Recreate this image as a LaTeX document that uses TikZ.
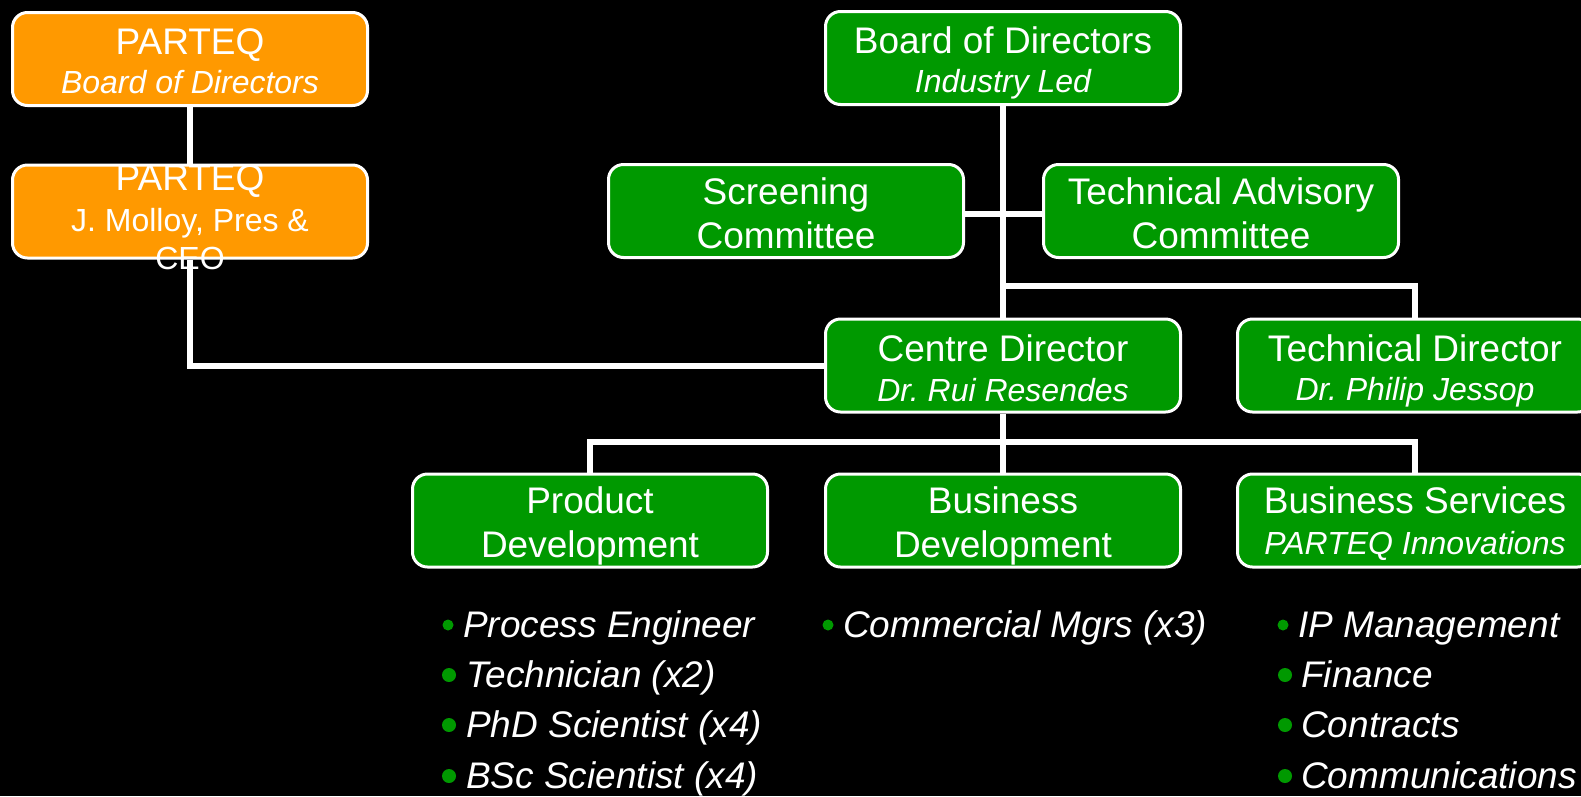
\documentclass[tikz,border=0pt]{standalone}
\usepackage{fontspec}
\setmainfont{Liberation Sans}
\definecolor{boxgreen}{HTML}{009900}
\definecolor{boxorange}{HTML}{FF9900}
\newcommand\ttlfont{\fontsize{37}{44}\selectfont}
\newcommand\subfont{\fontsize{32}{38}\selectfont\itshape}
\newcommand\subupfont{\fontsize{32}{38}\selectfont}
\newcommand\itemfont{\fontsize{37}{44}\selectfont\itshape}
\tikzset{
  orgbox/.style={rectangle, rounded corners=15pt, draw=white, line width=3pt,
    minimum width=355pt, minimum height=93pt, inner sep=0pt, fill=boxgreen},
  orangebox/.style={orgbox, fill=boxorange},
  conn/.style={draw=white, line width=6pt},
  ttl/.style={text=white, inner sep=0pt, anchor=base, font=\ttlfont},
  sub/.style={text=white, inner sep=0pt, anchor=base, font=\subfont},
  subup/.style={text=white, inner sep=0pt, anchor=base, font=\subupfont},
  itemtxt/.style={text=white, inner sep=0pt, anchor=base west, font=\itemfont},
  dot/.style={fill=boxgreen}
}
\begin{document}
\begin{tikzpicture}[x=1pt,y=-1pt]
\useasboundingbox (0,0) rectangle (1581,796);
\fill[black] (0,0) rectangle (1581,796);
\clip (0,0) rectangle (1581,796);

% boxes
\path
  (190,59)     node[orangebox] (pbod) {}
  (190,211.5)  node[orangebox] (pceo) {}
  (1003,58)    node[orgbox] (bod) {}
  (786,211)    node[orgbox] (sc) {}
  (1221,211)   node[orgbox] (tac) {}
  (1003,365.5) node[orgbox] (cd) {}
  (1415,365.5) node[orgbox] (td) {}
  (590,520.5)  node[orgbox] (pd) {}
  (1003,520.5) node[orgbox] (bd) {}
  (1415,520.5) node[orgbox] (bs) {};

\coordinate (j1) at (1003,286);
\coordinate (j2) at (1003,442);

% connectors
\draw[conn] (pbod.south) -- (pceo.north);
\draw[conn] (pceo.south) |- (cd.west);
\draw[conn] (bod.south) -- (cd.north);
\draw[conn] ([yshift=-3pt]sc.east) -- ([yshift=-3pt]tac.west);
\draw[conn] (j1) -| (td.north);
\draw[conn] (cd.south) -- (bd.north);
\draw[conn] (pd.north) |- (j2) -| (bs.north);

% box texts
\node[ttl] (pbodA) at ([yshift=5pt]pbod.center) {PARTEQ};
\node[sub] (pbodB) at ([yshift=-34pt]pbod.center) {Board of Directors};

\node[ttl] (pceoA) at ([yshift=21.5pt]pceo.center) {PARTEQ};
\node[subup] (pceoB) at ([yshift=-19.5pt]pceo.center) {J. Molloy, Pres \&};
\node[subup] (pceoC) at ([yshift=-58pt]pceo.center) {CEO};

\node[ttl] (bodA) at ([yshift=5pt]bod.center) {Board of Directors};
\node[sub] (bodB) at ([yshift=-34pt]bod.center) {Industry Led};

\node[ttl] (scA) at ([yshift=7pt]sc.center) {Screening};
\node[ttl] (scB) at ([yshift=-37pt]sc.center) {Committee};

\node[ttl] (tacA) at ([yshift=7pt]tac.center) {Technical Advisory};
\node[ttl] (tacB) at ([yshift=-37pt]tac.center) {Committee};

\node[ttl] (cdA) at ([yshift=4pt]cd.center) {Centre Director};
\node[sub] (cdB) at ([yshift=-36pt]cd.center) {Dr.\ Rui Resendes};

\node[ttl] (tdA) at ([yshift=4pt]td.center) {Technical Director};
\node[sub] (tdB) at ([yshift=-35pt]td.center) {Dr.\ Philip Jessop};

\node[ttl] (pdA) at ([yshift=7pt]pd.center) {Product};
\node[ttl] (pdB) at ([yshift=-37pt]pd.center) {Development};

\node[ttl] (bdA) at ([yshift=7pt]bd.center) {Business};
\node[ttl] (bdB) at ([yshift=-37pt]bd.center) {Development};

\node[ttl] (bsA) at ([yshift=7pt]bs.center) {Business Services};
\node[sub] (bsB) at ([yshift=-34pt]bs.center) {PARTEQ Innovations};

% bullet lists
\fill[dot] (448,625) circle (5.5pt);
\fill[dot] (449,675) circle (7pt);
\fill[dot] (449,725) circle (7pt);
\fill[dot] (449,776) circle (7pt);
\node[itemtxt] (p1) at (463,637) {Process Engineer};
\node[itemtxt] (p2) at (466,687) {Technician (x2)};
\node[itemtxt] (p3) at (466,737) {PhD Scientist (x4)};
\node[itemtxt] (p4) at (466,788) {BSc Scientist (x4)};

\fill[dot] (828,625) circle (5.5pt);
\node[itemtxt] (c1) at (843,637) {Commercial Mgrs (x3)};

\fill[dot] (1283,625) circle (5.5pt);
\fill[dot] (1285,675) circle (7pt);
\fill[dot] (1285,725) circle (7pt);
\fill[dot] (1285,776) circle (7pt);
\node[itemtxt] (s1) at (1298,637) {IP Management};
\node[itemtxt] (s2) at (1301,687) {Finance};
\node[itemtxt] (s3) at (1301,737) {Contracts};
\node[itemtxt] (s4) at (1301,788) {Communications};
\end{tikzpicture}
\end{document}
